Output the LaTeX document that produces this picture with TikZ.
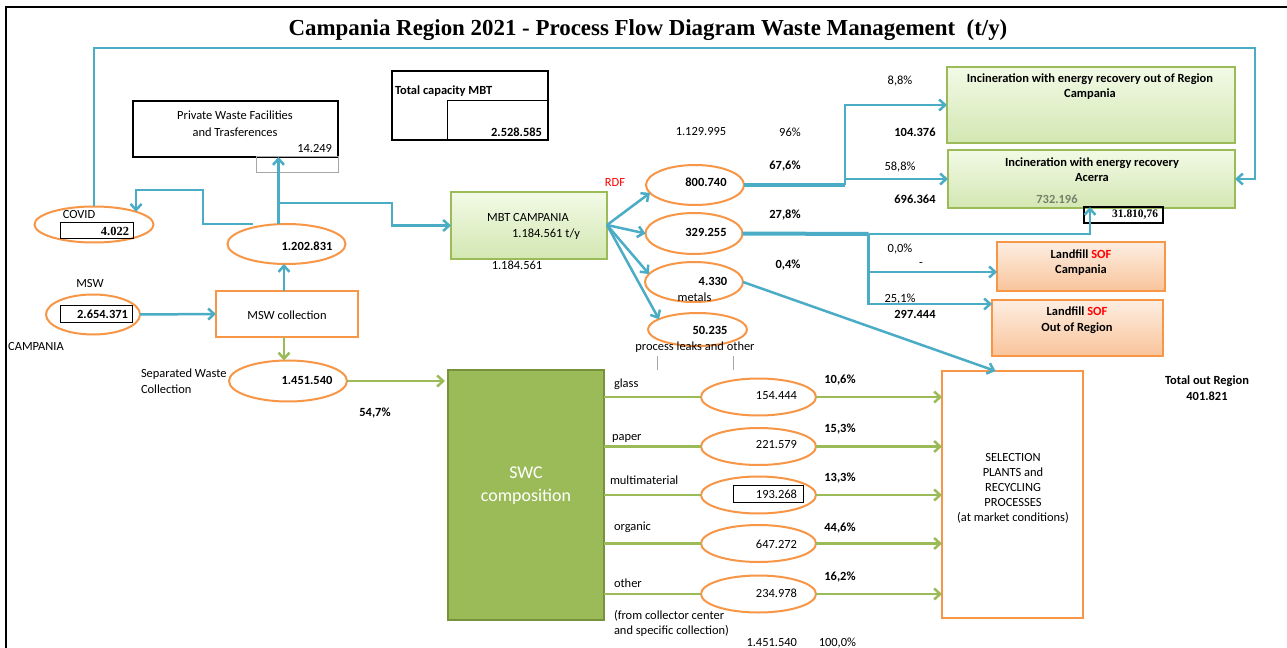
\documentclass[tikz,border=0pt]{standalone}
\usepackage{fontspec}
\setmainfont{Carlito}
\newfontfamily\tnr{Liberation Serif}
\usetikzlibrary{arrows.meta,shapes.geometric}
\definecolor{blu}{HTML}{4BACC6}
\definecolor{org}{HTML}{F79646}
\definecolor{grn}{HTML}{9BBB59}
\definecolor{grnd}{HTML}{76923C}
\definecolor{gtop}{HTML}{F2FAE6}
\definecolor{gbot}{HTML}{D3E7B2}
\definecolor{otop}{HTML}{FDEEE2}
\definecolor{obot}{HTML}{F9C49A}
\definecolor{gry}{HTML}{A6A6A6}
\definecolor{txtgrey}{HTML}{76806A}
\begin{document}
\begin{tikzpicture}[x=1bp,y=-1bp,
  every node/.style={font=\fontsize{12.5}{14}\selectfont, inner sep=0pt, outer sep=0pt},
  lb/.style={font=\fontsize{12.5}{14}\selectfont\bfseries},
  bl/.style={draw=blu, line width=2.5bp},
  bla/.style={bl, -{Straight Barb[length=6bp,width=11bp]}},
  blt/.style={draw=blu, line width=4bp},
  gl/.style={draw=grn, line width=2.5bp},
  gla/.style={gl, -{Straight Barb[length=6bp,width=11bp]}},
  ell/.style={ellipse, draw=org, line width=2bp},
  blackbox/.style={draw, line width=2bp, anchor=north west},
  thinbox/.style={draw, line width=1bp, anchor=north west},
  greenbox/.style={draw=grn, line width=1.2bp, top color=gtop, bottom color=gbot, anchor=north west},
  orangebox/.style={draw=org, line width=1.2bp, top color=otop, bottom color=obot, anchor=north west},
  plainbox/.style={draw=org, line width=2bp, anchor=north west},
]
\useasboundingbox (0,0) rectangle (1287,648);
\fill[white] (0,0) rectangle (1287,648);
% frame
\draw[line width=1.2bp] (6,648) -- (6,7) -- (1287,7);

% title
\node[font=\tnr\bfseries\fontsize{23}{23}\selectfont] (title) at (648,30)
  {Campania Region 2021 - Process Flow Diagram Waste Management~~(t/y)};

% ---------- boxes ----------
\node[blackbox, minimum width=205bp, minimum height=56bp] (priv) at (133,101) {};
\node[align=center, font=\fontsize{12.5}{17}\selectfont] (privt) at (235,124) {Private Waste Facilities\\and Trasferences};
\node[anchor=east] (privv) at (332,149) {14.249};
\node[draw=gry, line width=1bp, anchor=north west, minimum width=82bp, minimum height=16bp] (privg) at (256,157) {};

\node[blackbox, minimum width=156bp, minimum height=69bp] (cap) at (392,71) {};
\node[thinbox, minimum width=101bp, minimum height=39bp] (capin) at (447,101) {};
\node[lb, anchor=west] (capt) at (395,91) {Total capacity MBT};
\node[lb, anchor=east] (capv) at (542,132) {2.528.585};

\node[greenbox, minimum width=156bp, minimum height=67bp] (mbt) at (451,192) {};
\node (mbtt) at (528,218) {MBT CAMPANIA};
\node (mbtv) at (546,234) {1.184.561 t/y};
\node (mbtb) at (517,265) {1.184.561};
\node[text=red] (rdf) at (615,183) {RDF};

\node[greenbox, minimum width=288bp, minimum height=76bp] (inc1) at (947,67) {};
\node[align=center, font=\fontsize{12.5}{15}\selectfont\bfseries] (inc1t) at (1090,86.5) {Incineration with energy recovery out of Region\\Campania};
\node[greenbox, minimum width=287bp, minimum height=58bp] (inc2) at (948,150) {};
\node[align=center, font=\fontsize{12.5}{15}\selectfont\bfseries] (inc2t) at (1092,169.5) {Incineration with energy recovery\\Acerra};
\node[lb, text=txtgrey] (v732) at (1057,199) {732.196};
\node[draw, line width=1.2bp, anchor=north west, minimum width=79bp, minimum height=16bp] (box31) at (1084,207) {};
\node[anchor=east, font=\tnr\bfseries\fontsize{11.5}{13}\selectfont] (v31) at (1158,215) {31.810,76};

\node[orangebox, minimum width=168bp, minimum height=49bp] (lf1) at (997,242) {};
\node[align=center, font=\fontsize{12.5}{15}\selectfont\bfseries] (lf1t) at (1081,262.5) {Landfill \textcolor{red}{SOF}\\Campania};
\node[orangebox, minimum width=171bp, minimum height=56bp] (lf2) at (992,300) {};
\node[align=center, font=\fontsize{12.5}{16}\selectfont\bfseries] (lf2t) at (1077,320) {Landfill \textcolor{red}{SOF}\\Out of Region};

% ---------- right-top labels ----------
\node (p88) at (900,81) {8,8\%};
\node (v1129) at (701,132) {1.129.995};
\node (p96) at (790,132) {96\%};
\node[lb] (v104) at (915,132) {104.376};
\node[lb] (p676) at (785,166) {67,6\%};
\node (p588) at (900,167) {58,8\%};
\node[lb] (v696) at (915,199) {696.364};
\node[lb] (p278) at (785,215) {27,8\%};
\node (p00) at (900,249) {0,0\%};
\node (dash) at (921,265) {-};
\node[lb] (p04) at (788,265) {0,4\%};
\node (p251) at (900,299) {25,1\%};
\node[lb] (v297) at (915,314) {297.444};
\node[align=center, font=\fontsize{12.5}{16}\selectfont\bfseries] (tot) at (1207,388) {Total out Region\\401.821};

% ---------- MBT output ellipses ----------
\node[ell, minimum width=98bp, minimum height=40bp] (e800) at (695,185) {};
\node[lb] (e800t) at (706,182) {800.740};
\node[ell, minimum width=97bp, minimum height=41bp] (e329) at (694,233.5) {};
\node[lb] (e329t) at (706,232) {329.255};
\node[ell, minimum width=98bp, minimum height=40bp] (e4330) at (694,282) {};
\node[lb] (e4330t) at (713,281) {4.330};
\node (metals) at (694.5,297) {metals};
\node[ell, minimum width=99bp, minimum height=33bp] (e50) at (697.5,329.5) {};
\node[lb] (e50t) at (710,330) {50.235};
\node (leaks) at (695,347) {process leaks and other};
\draw[gry, line width=0.8bp] (657,356) -- (657,370);
\draw[gry, line width=0.8bp] (733,356) -- (733,370);

% ---------- left side ----------
\node[ell, minimum width=119bp, minimum height=36bp] (covid) at (94,224.5) {};
\node (covidt) at (79,215) {COVID};
\node[thinbox, minimum width=73bp, minimum height=16bp] (b4022) at (60,223) {};
\node[anchor=east, font=\tnr\bfseries\fontsize{12.5}{14}\selectfont] (v4022) at (129,231) {4.022};

\node[ell, minimum width=118bp, minimum height=40bp] (e1202) at (286.5,244) {};
\node[lb] (e1202t) at (307,246) {1.202.831};

\node (mswl) at (90,284) {MSW};
\node[ell, minimum width=94bp, minimum height=40bp] (e2654) at (93,314.5) {};
\node[thinbox, minimum width=72bp, minimum height=16bp] (b2654) at (60,306) {};
\node[lb, anchor=east] (v2654) at (128,314) {2.654.371};
\node (camp) at (36,347) {CAMPANIA};

\node[plainbox, minimum width=142bp, minimum height=46bp] (msw) at (216,291) {};
\node (mswt) at (287,315) {MSW collection};

\node[ell, minimum width=118bp, minimum height=41bp] (e1451) at (288,381) {};
\node[lb] (e1451t) at (307,380) {1.451.540};
\node[anchor=west, align=left, font=\fontsize{12.5}{16}\selectfont] (sepl) at (141,381) {Separated Waste\\Collection};
\node[lb] (p547) at (375,413) {54,7\%};

% ---------- SWC ----------
\node[draw=grnd, fill=grn, line width=2bp, anchor=north west, minimum width=156bp, minimum height=250bp] (swc) at (448,370) {};
\node[text=white, align=center, font=\fontsize{18}{23}\selectfont] (swct) at (526,485.5) {SWC\\composition};

\node[plainbox, minimum width=141bp, minimum height=247bp] (sel) at (942,371) {};
\node[align=center, font=\fontsize{12.5}{15}\selectfont] (selt) at (1013,488) {SELECTION\\PLANTS and\\RECYCLING\\PROCESSES\\(at market conditions)};

\node[ell, minimum width=115bp, minimum height=37bp] (eg) at (758.5,397) {};
\node[ell, minimum width=115bp, minimum height=37bp] (ep) at (758.5,446.5) {};
\node[ell, minimum width=115bp, minimum height=37bp] (em) at (758.5,495) {};
\node[ell, minimum width=115bp, minimum height=37bp] (eo) at (758.5,543.5) {};
\node[ell, minimum width=115bp, minimum height=37bp] (et) at (758.5,594) {};
\node[anchor=east] (vg) at (797,396) {154.444};
\node[anchor=east] (vp) at (797,445) {221.579};
\node[thinbox, minimum width=70bp, minimum height=17bp] (bm) at (733,485) {};
\node[anchor=east] (vm) at (797,494.5) {193.268};
\node[anchor=east] (vo) at (797,544) {647.272};
\node[anchor=east] (vt) at (797,593) {234.978};

\node[anchor=west] (lg) at (614,384) {glass};
\node[anchor=west] (lp) at (612,438) {paper};
\node[anchor=west] (lm) at (610,480) {multimaterial};
\node[anchor=west] (lo) at (614,527) {organic};
\node[anchor=west] (lt) at (614,583) {other};
\node[anchor=west, align=left, font=\fontsize{12.5}{15}\selectfont] (lfrom) at (614,623.5) {(from collector center\\and specific collection)};

\node[lb] (pg) at (840,380) {10,6\%};
\node[lb] (pp) at (840,429) {15,3\%};
\node[lb] (pm) at (840,478) {13,3\%};
\node[lb] (po) at (840,528) {44,6\%};
\node[lb] (pt) at (840,577) {16,2\%};
\node[anchor=east] (vtot) at (797,643) {1.451.540};
\node[anchor=east] (ptot) at (856,643) {100,0\%};

% ---------- connectors ----------
\coordinate (ctr) at (1255,48);
\draw[bla] (covid.north) |- (ctr) |- (inc2.east);

\coordinate (c1) at (253,224);
\draw[bla] (c1) -- (203,224) -- (203,190) -| (covid.north east);

\draw[bla] ([xshift=-8bp]e1202.north) -- ([xshift=-8bp]e1202.north |- priv.south);
\coordinate (jb) at (278.5,203);
\draw[bla] (jb) -- (392,203) |- (mbt.west);

\draw[bla] (e2654.east) -- (msw.west);
\draw[bla] ([xshift=-3bp]msw.north) -- ([xshift=-3bp]msw.north |- e1202.south);
\draw[gla] ([xshift=-3bp]msw.south) -- ([xshift=-3bp]msw.south |- e1451.north);
\draw[gla, shorten >=3bp] (e1451.east) -- (swc.west |- e1451.east);

\coordinate (fan) at (607,225);
\draw[bla] (fan) -- (e800.190);
\draw[bla] (fan) -- (e329.west);
\draw[bla] (fan) -- (e4330.170);
\draw[bla] (fan) -- (e50.165);

\coordinate (j800) at (845,185);
\coordinate (y105) at (0,105);
\draw[blt] (e800.east) -- (j800);
\draw[bla] (j800) |- (inc1.west |- y105);
\draw[bla] (j800 |- inc2.west) -- (inc2.west);

\coordinate (j329) at (868.5,234);
\coordinate (ylf1) at (0,272);
\coordinate (ylf2) at (0,304);
\draw[blt] (e329.east) -- (j329);
\draw[bla] (j329) -| ([xshift=6bp]box31.north west);
\draw[bla] (j329) |- (lf2.west |- ylf2);
\draw[bla] (j329 |- ylf1) -- (lf1.west |- ylf1);

\draw[bla] (e4330.east) -- ([xshift=-17bp]sel.north);

\foreach \e in {eg,ep,em,eo,et}{
  \draw[gl] (swc.east |- \e.west) -- (\e.west);
  \draw[gla] (\e.east) -- (sel.west |- \e.east);
}
\end{tikzpicture}
\end{document}
